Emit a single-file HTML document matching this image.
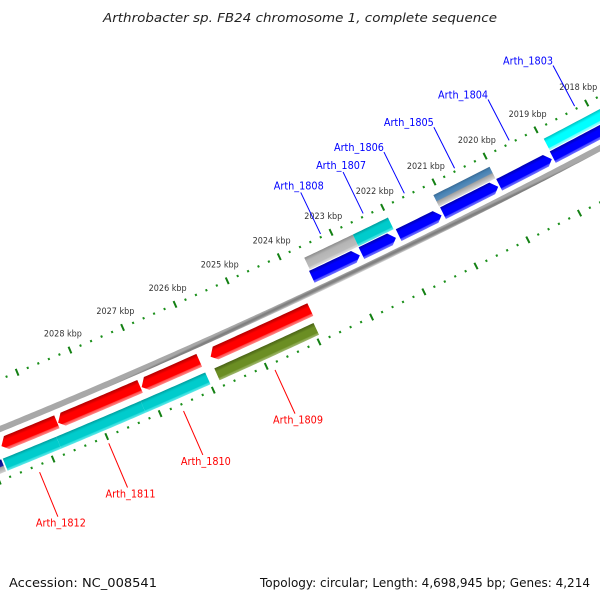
<!DOCTYPE html>
<html><head><meta charset="utf-8">
<style>
html,body{margin:0;padding:0;background:#fff;}
svg{display:block;}
text{font-family:"DejaVu Sans","Liberation Sans",sans-serif;}
</style></head>
<body>
<svg id="map" width="600" height="600" viewBox="0 0 600 600" xmlns="http://www.w3.org/2000/svg">
  <rect x="0" y="0" width="600" height="600" fill="#ffffff"/>
  <defs id="defs"></defs>
  <g id="ticks"></g>
  <g id="genes"></g>
  <g id="labels"></g>
  <text x="300" y="22" text-anchor="middle" font-size="12" font-style="italic" fill="#222" textLength="394" lengthAdjust="spacingAndGlyphs">Arthrobacter sp. FB24 chromosome 1, complete sequence</text>
  <text x="9" y="587" font-size="12" fill="#111" textLength="148" lengthAdjust="spacingAndGlyphs">Accession: NC_008541</text>
  <text x="590" y="587" text-anchor="end" font-size="12" fill="#111" textLength="330" lengthAdjust="spacingAndGlyphs">Topology: circular; Length: 4,698,945 bp; Genes: 4,214</text>
</svg>
<script>
// ---- data (bp coordinates) ----
const blueTips  = [2022722, 2022025, 2021142, 2020040, 2018992, 2017460];
const blueTails = [2023635, 2022680, 2021962, 2021103, 2020010, 2018962];
const upperLabels = ['Arth_1808','Arth_1807','Arth_1806','Arth_1805','Arth_1804','Arth_1803'];
const upperAnchors = ['middle','middle','end','end','end','end'];
const redTips  = [2029740, 2028680, 2027110, 2025807];
const redTails = [2028693, 2027130, 2026012, 2023900];
const track2Starts = [2022675, 2021995, 2020016, 2017460];
const track2Ends   = [2023612, 2022675, 2021112, 2018953];
const track2Kinds  = ['gray', 'teal', 'steel', 'aqua'];
const lowerStarts = [2029830, 2028803, 2027223, 2026003, 2023948];
const lowerEnds   = [2030400, 2029800, 2028803, 2027223, 2025831];
const lowerKinds  = ['navy', 'teal', 'teal', 'teal', 'olive'];
const lowerLabels = ['', 'Arth_1812', 'Arth_1811', 'Arth_1810', 'Arth_1809'];
const kbpLabels = [2018, 2019, 2020, 2021, 2022, 2023, 2024, 2025, 2026, 2027, 2028];

// ---- geometry ----
const CX = -2472.4, CY = -5632.1, PHI0 = 64.45, DPB = 0.000505, REF = 2023000;
const R_RING_OUT = 6500, R_TRACK2 = 6518, R_BLUE = 6532, R_BACK = 6546, R_RED = 6561, R_LOWER = 6581, R_RING_IN = 6594;
const NS = 'http://www.w3.org/2000/svg';
function ang(bp){ return (PHI0 + (bp - REF) * DPB) * Math.PI / 180; }
function pos(bp, r){ const a = ang(bp); return [CX + r * Math.cos(a), CY + r * Math.sin(a)]; }
function mk(tag, attrs, parent){ const e = document.createElementNS(NS, tag); for (const k in attrs) e.setAttribute(k, attrs[k]); parent.appendChild(e); return e; }
const defs = document.getElementById('defs');
const gTicks = document.getElementById('ticks');
const gGenes = document.getElementById('genes');
const gLabels = document.getElementById('labels');

const palettes = {
  blue:  [[0,'#0000b0'],[0.18,'#0000e0'],[0.3,'#0000ff'],[0.78,'#0000ff'],[0.84,'#4c4cff'],[1,'#7070ff']],
  red:   [[0,'#b00000'],[0.18,'#e00000'],[0.3,'#ff0000'],[0.76,'#ff0000'],[0.82,'#ff5050'],[1,'#ff8a8a']],
  teal:  [[0,'#009c9c'],[0.2,'#00c4c4'],[0.3,'#00cccc'],[0.78,'#00cccc'],[0.84,'#30dede'],[1,'#60e8e8']],
  aqua:  [[0,'#00c0c0'],[0.2,'#00f0f0'],[0.3,'#00ffff'],[0.78,'#00ffff'],[0.84,'#70ffff'],[1,'#a0ffff']],
  gray:  [[0,'#8c8c8c'],[0.2,'#a8a8a8'],[0.3,'#b4b4b4'],[0.78,'#bcbcbc'],[0.84,'#cccccc'],[1,'#dcdcdc']],
  steel: [[0,'#3a6a94'],[0.2,'#4682b4'],[0.5,'#5a8cb8'],[0.56,'#a0a0a0'],[0.8,'#c0c0c0'],[1,'#dcdcdc']],
  olive: [[0,'#4a6316'],[0.2,'#5f7f1e'],[0.3,'#6b8e23'],[0.78,'#6b8e23'],[0.84,'#86a448'],[1,'#a0b870']],
  navy:  [[0,'#000080'],[0.5,'#2020a0'],[0.56,'#a0a0a0'],[1,'#d0d0d0']],
  back:  [[0,'#a8a8a8'],[0.35,'#7c7c7c'],[0.6,'#8a8a8a'],[1,'#dedede']]
};
let gradId = 0;
function shade(kind, bpMid, r, h){
  const id = 'g' + (gradId++);
  const p1 = pos(bpMid, r - h/2), p2 = pos(bpMid, r + h/2);
  const lg = mk('linearGradient', {id:id, gradientUnits:'userSpaceOnUse', x1:p1[0], y1:p1[1], x2:p2[0], y2:p2[1]}, defs);
  palettes[kind].forEach(s => mk('stop', {offset:s[0], 'stop-color':s[1]}, lg));
  return 'url(#' + id + ')';
}
function arcPts(b0, b1, r){
  const pts = []; const n = Math.max(2, Math.ceil(Math.abs(b1 - b0) / 60));
  for (let i = 0; i <= n; i++){ pts.push(pos(b0 + (b1 - b0) * i / n, r)); }
  return pts;
}
const HEAD = 105;
// shape: tip at bp "tip", tail at bp "tail"; arrow if arrow true
function geneShape(tip, tail, r, h, arrow){
  const dir = tail > tip ? 1 : -1;
  const neck = arrow ? tip + dir * HEAD : tip;
  let pts = arcPts(neck, tail, r - h/2).concat(arcPts(tail, neck, r + h/2));
  if (arrow) pts.push(pos(tip, r + h*0.1));
  return pts.map(p => p[0].toFixed(2) + ',' + p[1].toFixed(2)).join(' ');
}

// ---- backbone ----
(function(){
  const h = 6, b0 = 2015500, b1 = 2031500;
  const pts = arcPts(b0, b1, R_BACK - h/2).concat(arcPts(b1, b0, R_BACK + h/2));
  const el = mk('polygon', {points: pts.map(p => p.join(',')).join(' '), fill: shade('back', 2023000, R_BACK, h)}, gGenes);
  
  
})();

// ---- ticks ----
function ring(r, name){
  for (let bp = 2015000; bp <= 2032000; bp += 200){
    const major = bp % 1000 === 0;
    const L = major ? 3.6 : 1.1;
    const a = pos(bp, r - L), b = pos(bp, r + L);
    const t = mk('line', {x1:a[0], y1:a[1], x2:b[0], y2:b[1], stroke: major ? '#138013' : '#1a8f1a', 'stroke-width': 2}, gTicks);
    
    
  }
}
ring(R_RING_OUT, 'outer-ring');
ring(R_RING_IN, 'inner-ring');
kbpLabels.forEach(k => {
  const p = pos(k * 1000, 6482);
  const t = mk('text', {x:p[0], y:p[1] + 3, 'text-anchor':'middle', 'font-size':9, fill:'#333', textLength:38, lengthAdjust:'spacingAndGlyphs'}, gTicks);
  t.textContent = k + ' kbp';
  
  
});

// ---- genes ----
function addGene(tip, tail, r, h, kind, arrow, name){
  const mid = (tip + tail) / 2;
  const el = mk('polygon', {points: geneShape(tip, tail, r, h, arrow), fill: shade(kind, mid, r, h)}, gGenes);
  
  
}
track2Starts.forEach((s, i) => addGene(s, track2Ends[i], R_TRACK2, 13, track2Kinds[i], false, 'upper-feature-' + i));
blueTips.forEach((t, i) => addGene(t, blueTails[i], R_BLUE, 13, 'blue', true, 'forward-gene-' + i));
redTips.forEach((t, i) => addGene(t, redTails[i], R_RED, 14, 'red', true, 'reverse-gene-' + i));
lowerStarts.forEach((s, i) => addGene(s, lowerEnds[i], R_LOWER, 13, lowerKinds[i], false, 'lower-feature-' + i));

// ---- labels ----
blueTips.forEach((t, i) => {
  const mid = (t + blueTails[i]) / 2;
  const a = pos(mid, R_BACK - 49), b = pos(mid, R_BACK - 95);
  const ln = mk('line', {x1:a[0], y1:a[1], x2:b[0], y2:b[1], stroke:'#0000ff', 'stroke-width':1}, gLabels);
  
  
  const anc = upperAnchors[i];
  const tx = mk('text', {x: anc === 'end' ? b[0] : b[0] - 2, y: anc === 'end' ? b[1] - 1 : b[1] - 3, 'text-anchor': anc, 'font-size':11, fill:'#0000ff', textLength:50, lengthAdjust:'spacingAndGlyphs'}, gLabels);
  tx.textContent = upperLabels[i];
  
  
});
lowerStarts.forEach((s, i) => {
  if (!lowerLabels[i]) return;
  const mid = (s + lowerEnds[i]) / 2;
  const a = pos(mid, R_BACK + 55), b = pos(mid, R_BACK + 103);
  const ln = mk('line', {x1:a[0], y1:a[1], x2:b[0], y2:b[1], stroke:'#ff0000', 'stroke-width':1}, gLabels);
  
  
  const tx = mk('text', {x: b[0] + 3, y: b[1] + 10, 'text-anchor':'middle', 'font-size':11, fill:'#ff0000', textLength:50, lengthAdjust:'spacingAndGlyphs'}, gLabels);
  tx.textContent = lowerLabels[i];
  
  
});
</script>
</body></html>
